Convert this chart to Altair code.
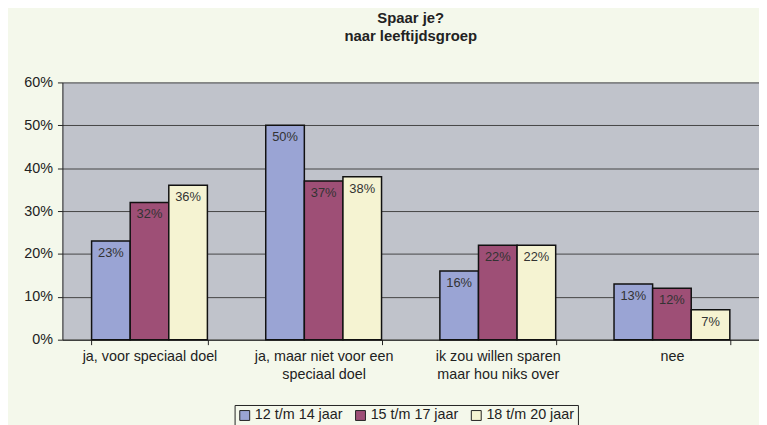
import altair as alt
import pandas as pd

categories = ["ja, voor speciaal doel", "ja, maar niet voor een|speciaal doel",
              "ik zou willen sparen|maar hou niks over", "nee"]
series = ["12 t/m 14 jaar", "15 t/m 17 jaar", "18 t/m 20 jaar"]
values = {
    "12 t/m 14 jaar": [0.23, 0.50, 0.16, 0.13],
    "15 t/m 17 jaar": [0.32, 0.37, 0.22, 0.12],
    "18 t/m 20 jaar": [0.36, 0.38, 0.22, 0.07],
}
colors = ["#9AA4D4", "#9E4F76", "#F5F3D2"]

rows = []
for s in series:
    for c, v in zip(categories, values[s]):
        rows.append({"cat": c, "groep": s, "val": v})
df = pd.DataFrame(rows)

font = "Liberation Sans"

x = alt.X("cat:N", sort=categories, title=None,
          scale=alt.Scale(paddingInner=0.335, paddingOuter=0.1675),
          axis=alt.Axis(labelAngle=0, labelExpr="split(datum.label, '|')",
                        tickBand="extent", labelFontSize=14.5, labelColor="#222",
                        labelFont=font, domainColor="#222", tickColor="#222",
                        tickSize=5, labelPadding=5, labelLineHeight=18))
y = alt.Y("val:Q", title=None,
          scale=alt.Scale(domain=[0, 0.6], nice=False),
          axis=alt.Axis(format=".0%", values=[0, .1, .2, .3, .4, .5, .6],
                        grid=True, gridColor="#444", gridWidth=1,
                        domainColor="#222", tickColor="#222", tickSize=5,
                        labelFontSize=14.5, labelColor="#222", labelFont=font,
                        labelPadding=5))

base = alt.Chart(df).encode(
    x=x,
    xOffset=alt.XOffset("groep:N", sort=series),
)

bars = base.mark_bar(stroke="#111", strokeWidth=1.5).encode(
    y=y,
    color=alt.Color("groep:N", sort=series,
                    scale=alt.Scale(domain=series, range=colors),
                    legend=alt.Legend(title=None, orient="none", direction="horizontal",
                                      legendX=174, legendY=326,
                                      symbolType="square", symbolSize=100,
                                      symbolStrokeColor="#222", symbolStrokeWidth=1,
                                      labelFontSize=14.5, labelFont=font, labelColor="#222",
                                      strokeColor="#222", padding=3,
                                      columnPadding=10, labelOffset=3)),
)

labels = base.mark_text(baseline="top", dy=6, fontSize=13, font=font, color="#333").encode(
    y=alt.Y("val:Q"),
    text=alt.Text("val:Q", format=".0%"),
)

chart = (bars + labels).properties(
    width=704, height=260,
    autosize=alt.AutoSizeParams(type="none"),
    padding={"left": 55, "top": 73, "right": 0, "bottom": 84},
    background="#F4F8EB",
    title=alt.Title(["Spaar je?", "naar leeftijdsgroep"], fontSize=15, font=font,
                    fontWeight="bold", color="#222", anchor="middle", offset=31,
                    lineHeight=18),
).configure_view(fill="#C0C3CB", stroke=None).configure_axis(gridOpacity=1)

chart.save("out.html", embed_options={"renderer": "svg", "actions": False})
